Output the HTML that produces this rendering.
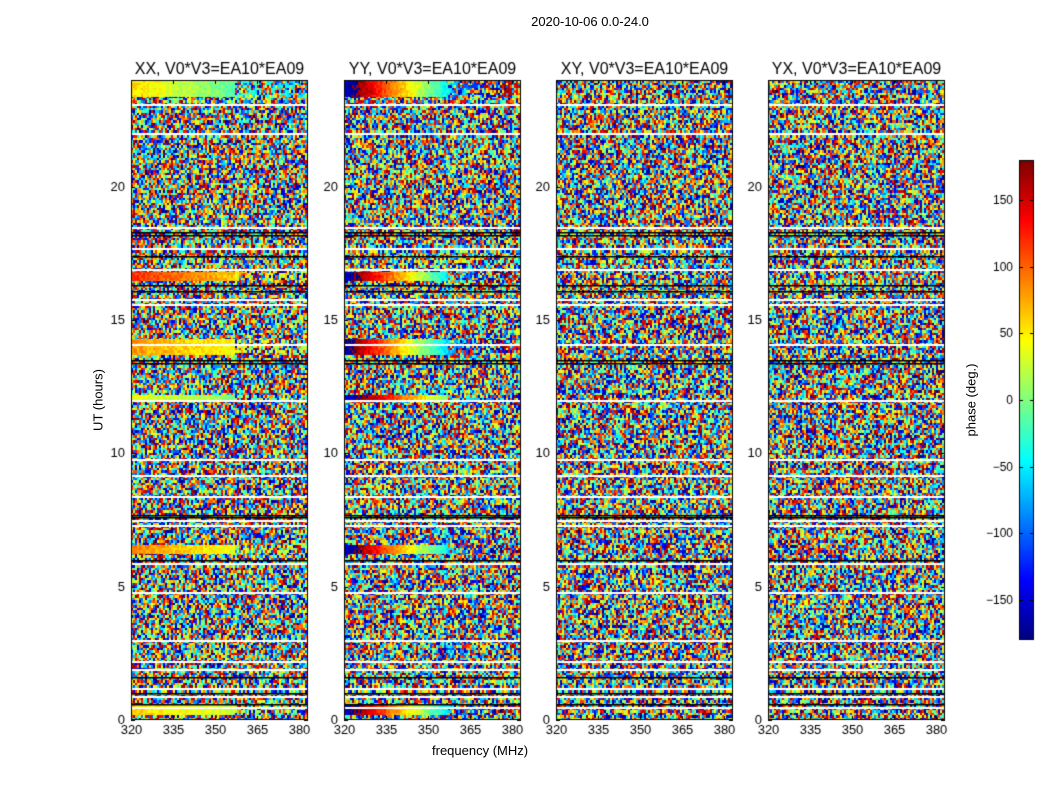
<!DOCTYPE html>
<html><head><meta charset="utf-8">
<style>
body{margin:0;background:#fff;font-family:"Liberation Sans",sans-serif;}
#wrap{position:relative;width:1050px;height:800px;overflow:hidden;background:#fff;}
.t{position:absolute;white-space:nowrap;color:#000;}
canvas{position:absolute;}
</style></head><body>
<div id="wrap">
<div class="t" style="left:0;width:1180px;text-align:center;top:14px;font-size:13px;">2020-10-06 0.0-24.0</div>
<div class="t" style="left:432px;top:743px;font-size:13px;">frequency (MHz)</div>
<div class="t" style="left:98px;top:400px;font-size:13px;transform:translate(-50%,-50%) rotate(-90deg);">UT (hours)</div>
<div class="t" style="left:971px;top:400px;font-size:13px;transform:translate(-50%,-50%) rotate(-90deg);">phase (deg.)</div>
<canvas id="cv" width="1050" height="800" style="left:0;top:0"></canvas>
</div>
<script>
const panelTitles=["XX, V0*V3=EA10*EA09","YY, V0*V3=EA10*EA09","XY, V0*V3=EA10*EA09","YX, V0*V3=EA10*EA09"];
const panelLeft=[131,344,556,768];
const xTicks=[320,335,350,365,380];
const yTicks=[0,5,10,15,20];
const cbTicks=[150,100,50,0,-50,-100,-150];
const gapHours=[23.1,22.0,18.5,17.7,16.9,15.8,15.6,14.1,12.0,9.8,9.2,8.4,7.5,7.3,5.9,4.8,3.0,2.2,1.9,1.2,0.9,0.5];
const blackHours=[18.3,18.2,17.4,16.3,16.1,13.5,13.4,7.7,7.6,6.0,1.6,1.0,0.6];
const bandStart=[23.4,16.5,13.7,12.0,6.25,0.2];
const bandEnd=[24.0,16.8,14.3,12.2,6.6,0.6];
const bandPhase=[[60,-150,0,0],[120,-150,0,0],[80,-160,0,0],[40,-140,0,0],[90,-150,0,0],[60,-150,0,0]];
const bandSlope=[[-2,-7,0,0],[-1.5,-7,0,0],[-1,-7,0,0],[-1,-6,0,0],[-1.5,-7,0,0],[-1,-7,0,0]];
const coherent=[[1,1,0,0],[1,1,0,0],[1,1,0,0],[1,1,0,0],[1,1,0,0],[1,1,0,0]];

const F0=320,F1=383.2,H0=0,H1=24,TOP=80,BOT=720,W=177;
function xs(p,f){return panelLeft[p]+(f-F0)/(F1-F0)*W;}
function ys(h){return BOT-(h-H0)/(H1-H0)*(BOT-TOP);}
function cbY(v){return 640-(v+180)/360*480;}
function jet(t){t=Math.max(0,Math.min(1,t));
 const r=Math.max(0,Math.min(1,Math.min(4*t-1.5,-4*t+4.5)));
 const g=Math.max(0,Math.min(1,Math.min(4*t-0.5,-4*t+3.5)));
 const b=Math.max(0,Math.min(1,Math.min(4*t+0.5,-4*t+2.5)));
 return [r*255|0,g*255|0,b*255|0];}
function hsh(a,b,c){let h=(a*374761393+b*668265263+c*2246822519)|0;h=(h^(h>>>13))*1274126177|0;return ((h^(h>>>16))>>>0)/4294967296;}
const cv=document.getElementById('cv'),ctx=cv.getContext('2d');
const img=ctx.createImageData(1050,800);const d=img.data;
for(let p=0;p<4;p++){
 for(let y=TOP;y<BOT;y++){
  const h=(BOT-y)/(BOT-TOP)*24;
  const ry=Math.floor((y-TOP)/2.5);
  let bi=-1;for(let k=0;k<bandStart.length;k++)if(h>=bandStart[k]&&h<bandEnd[k]&&coherent[k][p])bi=k;
  for(let x=panelLeft[p];x<panelLeft[p]+W;x++){
   const f=F0+(x-panelLeft[p])/W*(F1-F0);
   const rx=Math.floor((x-panelLeft[p])/2);
   let ph;
   if(bi>=0&&(f<357||hsh(rx,ry,p+9)<0.3)){ph=bandPhase[bi][p]+bandSlope[bi][p]*(f-F0)+(hsh(rx,ry,p)-0.5)*30;}
   else ph=hsh(rx,ry,p)*360-180;
   ph=((ph+180)%360+360)%360;
   const c=jet(ph/360);const i=(y*1050+x)*4;
   d[i]=c[0];d[i+1]=c[1];d[i+2]=c[2];d[i+3]=255;
  }
 }
}
for(let y=160;y<640;y++){const c=jet((640-y)/480);for(let x=1019;x<1034;x++){const i=(y*1050+x)*4;d[i]=c[0];d[i+1]=c[1];d[i+2]=c[2];d[i+3]=255;}}
ctx.putImageData(img,0,0);
for(let p=0;p<4;p++){
 gapHours.forEach(g=>{ctx.fillStyle='#fff';ctx.fillRect(panelLeft[p],Math.round(ys(g)),W,2);});
 blackHours.forEach(g=>{ctx.fillStyle='#000';ctx.fillRect(panelLeft[p],Math.round(ys(g)),W,1.5);});
 ctx.strokeStyle='#000';ctx.lineWidth=1;ctx.strokeRect(panelLeft[p]+0.5,TOP+0.5,W-1,BOT-TOP-1);
 ctx.fillStyle='#000';ctx.font='13px "Liberation Sans",sans-serif';ctx.textAlign='center';ctx.textBaseline='top';
 xTicks.forEach(t=>{const x=Math.round(xs(p,t))+0.5;ctx.beginPath();ctx.moveTo(x,BOT);ctx.lineTo(x,BOT-4);ctx.moveTo(x,TOP);ctx.lineTo(x,TOP+4);ctx.stroke();ctx.fillText(t,x,BOT+4);});
 ctx.textAlign='right';ctx.textBaseline='middle';
 yTicks.forEach(t=>{const y=Math.round(ys(t))+0.5;ctx.beginPath();ctx.moveTo(panelLeft[p],y);ctx.lineTo(panelLeft[p]+4,y);ctx.moveTo(panelLeft[p]+W,y);ctx.lineTo(panelLeft[p]+W-4,y);ctx.stroke();ctx.fillText(t,panelLeft[p]-6,y);});
 ctx.font='16px "Liberation Sans",sans-serif';ctx.textAlign='center';ctx.textBaseline='alphabetic';
 ctx.fillText(panelTitles[p],panelLeft[p]+W/2,74);
}
ctx.strokeRect(1019.5,160.5,14,479);
ctx.font='12px "Liberation Sans",sans-serif';ctx.textAlign='right';ctx.textBaseline='middle';
cbTicks.forEach(t=>{const y=Math.round(cbY(t))+0.5;ctx.beginPath();ctx.moveTo(1019,y);ctx.lineTo(1023,y);ctx.moveTo(1034,y);ctx.lineTo(1030,y);ctx.stroke();ctx.fillText(t<0?'\u2212'+(-t):t,1013,y);});
</script>
</body></html>
